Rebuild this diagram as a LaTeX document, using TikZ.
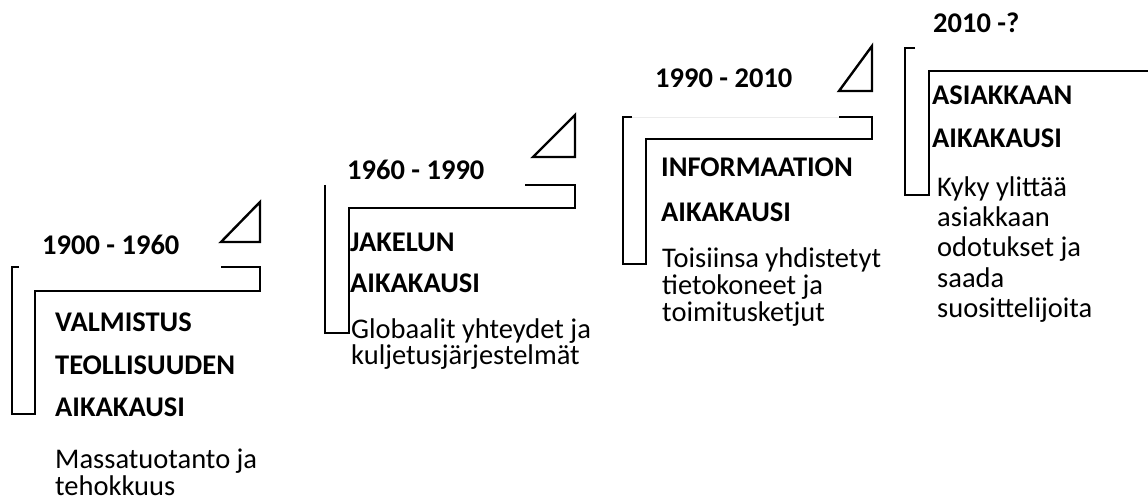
\documentclass[tikz,border=0pt]{standalone}
\usepackage{fontspec}
\setmainfont{Carlito}
\begin{document}
\begin{tikzpicture}[x=1pt,y=-1pt,
  stepline/.style={line width=2.4pt,line join=miter,draw=black},
  yearlbl/.style={anchor=base west,inner sep=0pt,font=\fontsize{28.5}{30}\selectfont\bfseries},
  headlbl/.style={anchor=base west,inner sep=0pt,font=\fontsize{28.5}{30}\selectfont\bfseries},
  bodylbl/.style={anchor=base west,inner sep=0pt,font=\fontsize{28.5}{30}\selectfont}]
\useasboundingbox[fill=white] (0,0) rectangle (1148,502);

% ---- step 1
\draw[stepline] (19,267) -- (12,267) -- (12,414) -- (35,414) -- (35,291) -- (260,291) -- (260,267) -- (221,267);
\draw[stepline] (221,242) -- (260,242) -- (260,202) -- cycle;
\node[yearlbl] (y1) at (42,255) {1900 - 1960};
\node[headlbl] (h1a) at (55,332) {VALMISTUS};
\node[headlbl] (h1b) at (55,374) {TEOLLISUUDEN};
\node[headlbl] (h1c) at (55,416) {AIKAKAUSI};
\node[bodylbl] (b1a) at (55,468) {Massatuotanto ja};
\node[bodylbl] (b1b) at (55,495) {tehokkuus};

% ---- step 2
\draw[stepline] (325,185) -- (325,333) -- (349,333) -- (349,208) -- (575,208) -- (575,185) -- (525,185);
\draw[stepline] (533,157) -- (575,157) -- (575,115) -- cycle;
\node[yearlbl] (y2) at (347,180) {1960 - 1990};
\node[headlbl] (h2a) at (350,252) {JAKELUN};
\node[headlbl] (h2b) at (350,293) {AIKAKAUSI};
\node[bodylbl] (b2a) at (351,338) {Globaalit yhteydet ja};
\node[bodylbl] (b2b) at (351,364) {kuljetusjärjestelmät};

% ---- step 3
\draw[gray!15,line width=0.8pt] (632,117) -- (839,117);
\draw[stepline] (632,117) -- (623,117) -- (623,264) -- (646,264) -- (646,139) -- (872,139) -- (872,117) -- (839,117);
\draw[stepline] (839,91) -- (872,91) -- (872,46) -- cycle;
\node[yearlbl] (y3) at (655,88) {1990 - 2010};
\node[headlbl] (h3a) at (661,177) {INFORMAATION};
\node[headlbl] (h3b) at (661,222) {AIKAKAUSI};
\node[bodylbl] (b3a) at (662,268) {Toisiinsa yhdistetyt};
\node[bodylbl] (b3b) at (662,295) {tietokoneet ja};
\node[bodylbl] (b3c) at (662,322) {toimitusketjut};

% ---- step 4
\draw[stepline] (915,48) -- (905,48) -- (905,195) -- (929,195) -- (929,71) -- (1152,71);
\node[yearlbl] (y4) at (933,33) {2010 -?};
\node[headlbl] (h4a) at (932,105) {ASIAKKAAN};
\node[headlbl] (h4b) at (932,148) {AIKAKAUSI};
\node[bodylbl] (b4a) at (937,197) {Kyky ylittää};
\node[bodylbl] (b4b) at (937,227) {asiakkaan};
\node[bodylbl] (b4c) at (937,257) {odotukset ja};
\node[bodylbl] (b4d) at (937,288) {saada};
\node[bodylbl] (b4e) at (937,318) {suosittelijoita};
\end{tikzpicture}
\end{document}
